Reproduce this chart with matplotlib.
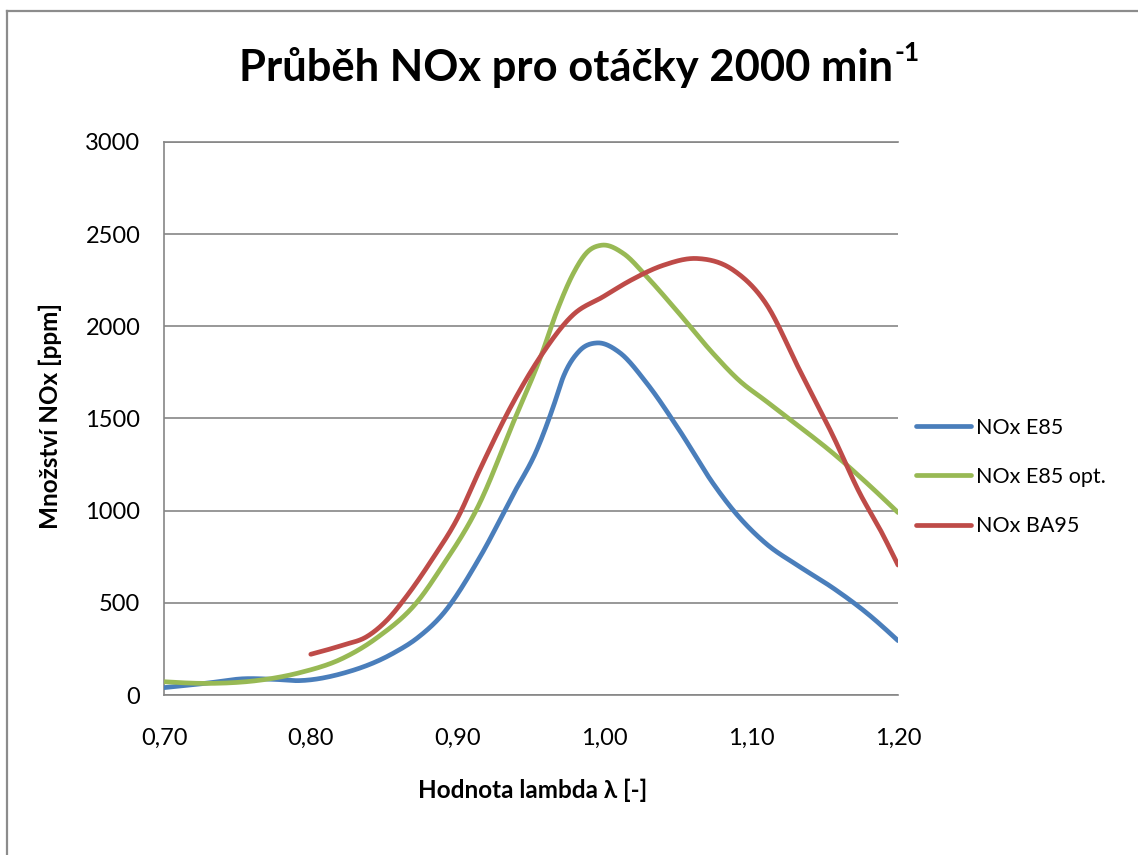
import numpy as np
import matplotlib
matplotlib.use("Agg")
import matplotlib.pyplot as plt
from matplotlib.lines import Line2D

# ---------------- data ----------------
lam_e85 = [0.700, 0.730, 0.754, 0.775, 0.792, 0.822, 0.856, 0.873, 0.890, 0.915,
           0.938, 0.954, 0.965, 0.972, 0.983, 0.995, 1.010, 1.029, 1.051, 1.074,
           1.088, 1.110, 1.133, 1.156, 1.179, 1.200]
nox_e85 = [40, 65, 88, 85, 78, 118, 226, 312, 440, 745,
           1090, 1330, 1560, 1726, 1867, 1910, 1860, 1690, 1437, 1148,
           1000, 822, 696, 579, 443, 295]

lam_e85opt = [0.700, 0.731, 0.765, 0.792, 0.822, 0.845, 0.874, 0.888, 0.915, 0.938,
              0.957, 0.968, 0.979, 0.988, 0.998, 1.013, 1.029, 1.051, 1.074, 1.092,
              1.110, 1.133, 1.156, 1.179, 1.200]
nox_e85opt = [72, 63, 80, 120, 200, 310, 520, 680, 1040, 1480,
              1843, 2090, 2290, 2400, 2440, 2395, 2268, 2069, 1853, 1705,
              1595, 1455, 1310, 1148, 990]

lam_ba95 = [0.800, 0.822, 0.838, 0.852, 0.865, 0.883, 0.900, 0.915, 0.936, 0.957,
            0.979, 0.999, 1.018, 1.040, 1.063, 1.088, 1.110, 1.133, 1.156, 1.174,
            1.188, 1.200]
nox_ba95 = [221, 271, 316, 407, 533, 740, 960, 1220, 1560, 1843,
            2065, 2160, 2250, 2331, 2368, 2304, 2124, 1762, 1401, 1094,
            895, 705]

series_labels = ["NOx E85", "NOx E85 opt.", "NOx BA95"]
series_colors = ["#4A7EBB", "#98B954", "#BE4B48"]

x_ticks = [0.70, 0.80, 0.90, 1.00, 1.10, 1.20]
x_tick_labels = ["0,70", "0,80", "0,90", "1,00", "1,10", "1,20"]
y_ticks = [0, 500, 1000, 1500, 2000, 2500, 3000]

title_main = "Průběh NOx pro otáčky 2000 min"
title_sup = "-1"
x_title = "Hodnota lambda λ [-]"
y_title = "Množství NOx [ppm]"


def smooth_curve(xs, ys, n=30):
    """Cubic Hermite curve through the points with three-point slopes (smoothed line)."""
    x = np.asarray(xs, float); y = np.asarray(ys, float)
    h = np.diff(x); d = np.diff(y) / h
    m = np.zeros_like(y)
    for k in range(1, len(x) - 1):
        m[k] = (d[k - 1] * h[k] + d[k] * h[k - 1]) / (h[k - 1] + h[k])
    m[0] = 2 * d[0] - m[1] if len(x) > 2 else d[0]
    m[-1] = 2 * d[-1] - m[-2] if len(x) > 2 else d[-1]
    m[0] = 0.5 * (m[0] + d[0]); m[-1] = 0.5 * (m[-1] + d[-1])
    X, Y = [], []
    for k in range(len(x) - 1):
        t = np.linspace(0, 1, n, endpoint=False)
        h00 = 2 * t**3 - 3 * t**2 + 1; h10 = t**3 - 2 * t**2 + t
        h01 = -2 * t**3 + 3 * t**2; h11 = t**3 - t**2
        X.append(x[k] + t * h[k])
        Y.append(h00 * y[k] + h10 * h[k] * m[k] + h01 * y[k + 1] + h11 * h[k] * m[k + 1])
    X.append([x[-1]]); Y.append([y[-1]])
    return np.concatenate(X), np.concatenate(Y)


FONT = ["Lato", "DejaVu Sans"]
plt.rcParams["font.family"] = FONT

W, H = 1138, 855
fig = plt.figure(figsize=(W / 100, H / 100), dpi=100)
fig.patch.set_facecolor("white")

L, R, T, B = 164, 898, 142, 695
ax = fig.add_axes([L / W, 1 - B / H, (R - L) / W, (B - T) / H])

grid_c = "#868686"
for xs, ys, lab, col in zip([lam_e85, lam_e85opt, lam_ba95],
                            [nox_e85, nox_e85opt, nox_ba95],
                            series_labels, series_colors):
    sx, sy = smooth_curve(xs, ys)
    ax.plot(sx, sy, color=col, lw=3.4, label=lab, solid_capstyle="round",
            solid_joinstyle="round", zorder=3)

ax.set_xlim(0.70, 1.20)
ax.set_ylim(0, 3000)
ax.set_xticks(x_ticks)
ax.set_xticklabels(x_tick_labels)
ax.set_yticks(y_ticks)
ax.set_yticklabels([str(v) for v in y_ticks])
ax.tick_params(axis="both", length=0, labelsize=17, colors="black")
ax.tick_params(axis="y", pad=17)
ax.tick_params(axis="x", pad=24)
ax.yaxis.grid(True, color=grid_c, lw=1.2, zorder=1)
ax.set_axisbelow(True)
for s in ["left", "bottom", "top"]:
    ax.spines[s].set_color(grid_c)
    ax.spines[s].set_linewidth(1.2)
ax.spines["right"].set_visible(False)

# axis titles
fig.text(50 / W, 1 - 416 / H, y_title, rotation=90, ha="center", va="center",
         fontsize=17.5, fontweight="bold", family=FONT)
fig.text(533 / W, 1 - 790 / H, x_title, ha="center", va="center",
         fontsize=17.5, fontweight="bold", family=FONT)

# chart title with superscript
t = fig.text(566 / W, 1 - 81 / H, title_main, ha="center", va="baseline",
             fontsize=31.3, fontweight="bold", family=FONT)
fig.canvas.draw()
bb = t.get_window_extent()
fig.text((bb.x1 + 1) / W, 1 - 61 / H, title_sup, ha="left", va="baseline",
         fontsize=19, fontweight="bold", family=FONT)

# legend
leg = ax.legend(loc="center left", bbox_to_anchor=(916 / W, 1 - 477 / H),
                bbox_transform=fig.transFigure, frameon=False, fontsize=15.5,
                handlelength=2.55, handletextpad=0.25, labelspacing=1.35,
                borderpad=0, borderaxespad=0)
for h in leg.get_lines():
    h.set_linewidth(3.4)
    h.set_solid_capstyle("round")

# outer chart-area border (only left & top visible in the reference)
border_c = "#8C8C8C"
fig.add_artist(Line2D([7 / W, 7 / W], [0, 1 - 11 / H], transform=fig.transFigure,
                      color=border_c, lw=1.6))
fig.add_artist(Line2D([7 / W, 1], [1 - 11 / H, 1 - 11 / H], transform=fig.transFigure,
                      color=border_c, lw=1.6))

fig.savefig("out.png", dpi=100, facecolor="white")
